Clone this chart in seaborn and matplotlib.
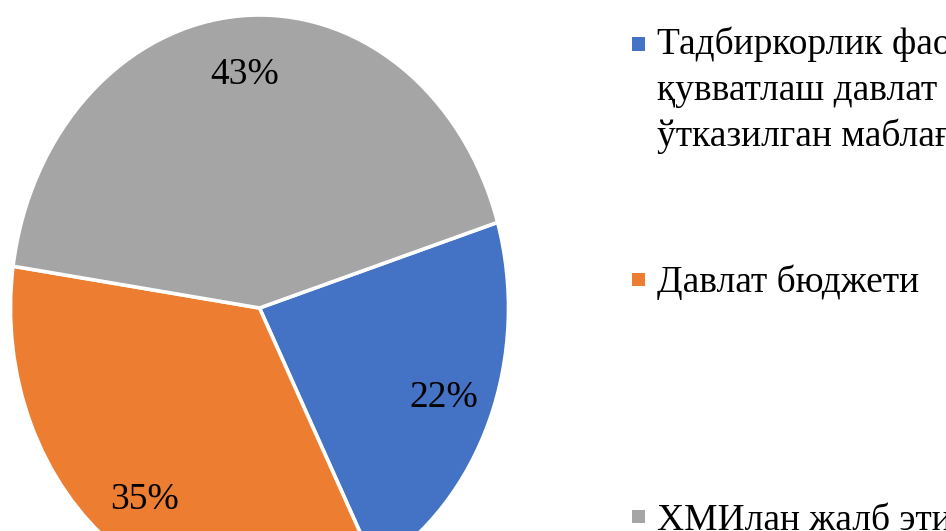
import matplotlib
matplotlib.use("Agg")
import matplotlib.pyplot as plt
from matplotlib.patches import Rectangle
import seaborn as sns

# ---- data ----
categories = [
    "Тадбиркорлик фаолиятини қўллаб-\nқувватлаш давлат жамғармаси орқали\nўтказилган маблағлар",
    "Давлат бюджети",
    "ХМИлан жалб этилган маблағлар",
]
shares = [22, 35, 43]
colors = ["#4472C4", "#ED7D31", "#A5A5A5"]

sns.set_theme(style="white")
plt.rcParams["font.family"] = ["Liberation Serif", "DejaVu Serif"]

W, H = 946, 531
fig = plt.figure(figsize=(W / 100, H / 100), dpi=100)
fig.patch.set_facecolor("white")

# axes placed so that the (vertically stretched) pie matches the reference
left_px, right_px, top_px, bottom_px = 10.5, 508.5, 15, 601
ax = fig.add_axes([left_px / W, (H - bottom_px) / H,
                   (right_px - left_px) / W, (bottom_px - top_px) / H])

wedges, texts, autotexts = ax.pie(
    shares,
    colors=colors,
    startangle=17,
    counterclock=False,
    autopct=lambda p: f"{p:.0f}%",
    pctdistance=0.80,
    wedgeprops=dict(edgecolor="white", linewidth=2.6),
    textprops=dict(fontsize=27, color="black"),
)
ax.set_aspect("auto")
ax.set_xlim(-1, 1)
ax.set_ylim(-1, 1)
ax.axis("off")

# ---- legend (drawn manually to match layout) ----
marker_x = 632
marker_size = 13
text_x = 657
entries_marker_y = [44, 279, 516]
entries_top = [27, 264, 503]
for lab, col, my, ty in zip(categories, colors, entries_marker_y, entries_top):
    fig.add_artist(Rectangle((marker_x / W, (H - my - marker_size / 2) / H),
                             marker_size / W, marker_size / H,
                             transform=fig.transFigure, facecolor=col,
                             edgecolor="none"))
    fig.text(text_x / W, (H - ty) / H, lab, fontsize=27, ha="left",
             va="top", linespacing=1.40, color="black")

fig.savefig("out.png", dpi=100)
